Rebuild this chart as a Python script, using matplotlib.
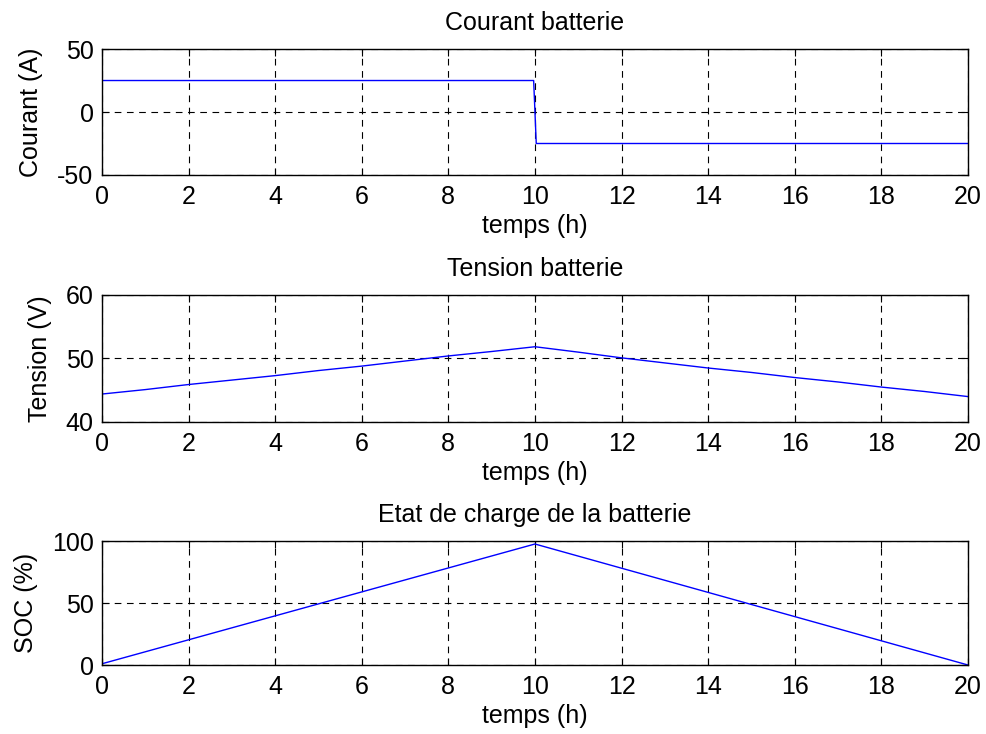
import matplotlib
matplotlib.use('Agg')
import matplotlib.pyplot as plt

# courant batterie (A)
t_cur = [0, 9.97, 10.03, 20]
courant = [25, 25, -25, -25]

# tension batterie (V), relevee toutes les heures
t_v = list(range(0, 21))
tension = [44.4, 45.1, 45.9, 46.6, 47.3, 48.1, 48.8, 49.6, 50.4, 51.1, 51.85,
           51.0, 50.1, 49.3, 48.5, 47.8, 47.0, 46.3, 45.5, 44.8, 44.0]

# etat de charge (%)
t_soc = [0, 10, 20]
soc = [1.0, 97.6, 0.0]

titles = ['Courant batterie', 'Tension batterie', 'Etat de charge de la batterie']
ylabels = ['Courant (A)', 'Tension (V)', 'SOC (%)']
ylims = [(-50, 50), (40, 60), (0, 100)]
yticks = [[-50, 0, 50], [40, 50, 60], [0, 50, 100]]
xticks = list(range(0, 21, 2))

plt.rcParams['font.family'] = ['Liberation Sans', 'DejaVu Sans']
plt.rcParams['font.size'] = 18
plt.rcParams['axes.unicode_minus'] = False

fig = plt.figure(figsize=(9.86, 7.34), dpi=100)
boxes = [[0.1034, 0.7616, 0.8783, 0.1716],
         [0.1034, 0.4251, 0.8783, 0.1730],
         [0.1034, 0.0940, 0.8783, 0.1689]]
series = [(t_cur, courant), (t_v, tension), (t_soc, soc)]

for i in range(3):
    ax = fig.add_axes(boxes[i])
    x, y = series[i]
    ax.plot(x, y, color='#0000ff', lw=1)
    ax.set_xlim(0, 20)
    ax.set_ylim(*ylims[i])
    ax.set_xticks(xticks)
    ax.set_yticks(yticks[i])
    ax.grid(True, color='k', linestyle=(0, (6, 5)), lw=0.8)
    ax.tick_params(direction='in', top=True, right=True, length=5)
    ax.tick_params(axis='y', pad=6)
    ax.tick_params(axis='x', pad=7)
    for s in ax.spines.values():
        s.set_linewidth(1)
    ax.set_title(titles[i], fontsize=18, pad=14)
    ax.set_ylabel(ylabels[i], labelpad=10)
    ax.set_xlabel('temps (h)', labelpad=4)

plt.savefig('out.png', dpi=100)
